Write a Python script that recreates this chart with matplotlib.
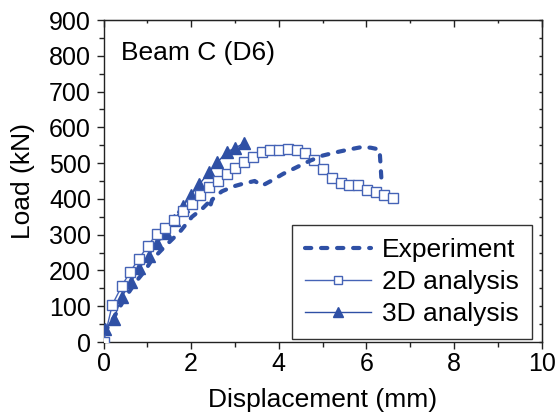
import matplotlib
matplotlib.use("Agg")
import matplotlib.pyplot as plt
from matplotlib.ticker import MultipleLocator

plt.rcParams['font.family'] = ['Liberation Sans', 'DejaVu Sans']

# Load-displacement data, Beam C (D6)
exp_disp = [0.02, 0.30, 0.50, 0.75, 0.95, 1.10, 1.40, 1.75, 2.02, 2.25, 2.38, 2.42, 2.48,
            2.70, 2.97, 3.20, 3.45, 3.62, 3.85, 4.10, 4.40, 4.70, 5.00, 5.30, 5.60, 5.90,
            6.10, 6.30, 6.32, 6.35]
exp_load = [25, 82, 125, 170, 200, 229, 267, 309, 350, 372, 388, 374, 398,
            421, 435, 443, 450, 437, 452, 470, 488, 506, 521, 530, 538, 545,
            543, 538, 500, 440]

fe2d_disp = [0.0, 0.20, 0.42, 0.61, 0.80, 1.01, 1.21, 1.41, 1.61, 1.81, 2.02, 2.21, 2.41,
             2.61, 2.81, 3.00, 3.21, 3.41, 3.61, 3.80, 4.01, 4.21, 4.41, 4.60, 4.81, 5.00,
             5.21, 5.41, 5.61, 5.80, 6.01, 6.21, 6.40, 6.60]
fe2d_load = [0, 104, 157, 197, 231, 269, 301, 318, 341, 366, 386, 411, 433,
             451, 470, 486, 503, 517, 530, 537, 537, 540, 537, 529, 510, 483,
             459, 445, 440, 440, 426, 420, 410, 402]

fe3d_disp = [0.03, 0.23, 0.42, 0.63, 0.82, 1.03, 1.23, 1.43, 1.62, 1.82, 1.99, 2.19,
             2.40, 2.60, 2.81, 3.00, 3.21]
fe3d_load = [35, 63, 127, 169, 206, 241, 276, 306, 342, 380, 411, 441,
             474, 502, 531, 542, 556]

x_label = "Displacement (mm)"
y_label = "Load (kN)"
title_text = "Beam C (D6)"
series_names = ["Experiment", "2D analysis", "3D analysis"]

blue = '#2f50a5'
blue_light = '#4563b6'

fig = plt.figure(figsize=(5.57, 4.18), dpi=100)
ax = fig.add_axes([103.5 / 557, (418 - 342) / 418, 438.2 / 557, 322 / 418])

ax.plot(fe3d_disp, fe3d_load, color=blue, lw=1.0, marker='^', ms=8.5,
        mfc=blue, mec=blue, label=series_names[2], zorder=3)
ax.plot(fe2d_disp, fe2d_load, color=blue_light, lw=1.0, marker='s', ms=7,
        mfc='white', mec=blue_light, mew=1.0, label=series_names[1], zorder=4)
exp_line, = ax.plot(exp_disp, exp_load, color=blue, lw=3.0, label=series_names[0],
                    dash_capstyle='round', solid_capstyle='round', zorder=5)
exp_line.set_dashes((1.5, 2.35))

ax.set_xlim(0, 10)
ax.set_ylim(0, 900)
ax.xaxis.set_major_locator(MultipleLocator(2))
ax.xaxis.set_minor_locator(MultipleLocator(1))
ax.yaxis.set_major_locator(MultipleLocator(100))
ax.yaxis.set_minor_locator(MultipleLocator(50))

for s in ax.spines.values():
    s.set_linewidth(1.0)
    s.set_color('#222222')

ax.tick_params(axis='both', which='major', direction='out', length=5, width=1.0,
               labelsize=18, colors='#222222', labelcolor='black')
ax.tick_params(axis='both', which='minor', direction='out', length=3.5, width=1.0,
               colors='#222222')
ax.tick_params(axis='x', which='major', pad=2)
ax.tick_params(axis='y', which='major', pad=4)

# Mirror ticks on top and right, pointing inward
top = ax.secondary_xaxis('top')
top.xaxis.set_major_locator(MultipleLocator(2))
top.xaxis.set_minor_locator(MultipleLocator(1))
top.tick_params(which='major', direction='in', length=5, width=1.0, labeltop=False,
                colors='#222222')
top.tick_params(which='minor', direction='in', length=2.5, width=1.0, colors='#222222')
right = ax.secondary_yaxis('right')
right.yaxis.set_major_locator(MultipleLocator(100))
right.yaxis.set_minor_locator(MultipleLocator(50))
right.tick_params(which='major', direction='in', length=2.5, width=1.0, labelright=False,
                  colors='#222222')
right.tick_params(which='minor', direction='in', length=2.5, width=1.0, colors='#222222')

ax.set_xlabel(x_label, fontsize=19, labelpad=9)
ax.set_ylabel(y_label, fontsize=19, labelpad=10)

ax.text(0.04, 0.876, title_text, transform=ax.transAxes, fontsize=19,
        ha='left', va='baseline')

handles, labels = ax.get_legend_handles_labels()
order = [2, 1, 0]
leg = ax.legend([handles[i] for i in order], [labels[i] for i in order],
                loc='lower right', bbox_to_anchor=(0.977, 0.0084), borderaxespad=0,
                fontsize=19, handlelength=2.5, handletextpad=0.4, labelspacing=0.3,
                borderpad=0.5, numpoints=1, fancybox=False, frameon=True,
                markerscale=0.85)
leg.get_frame().set_edgecolor('black')
leg.get_frame().set_linewidth(1.0)
leg.set_zorder(10)

fig.savefig('out.png', dpi=100)
